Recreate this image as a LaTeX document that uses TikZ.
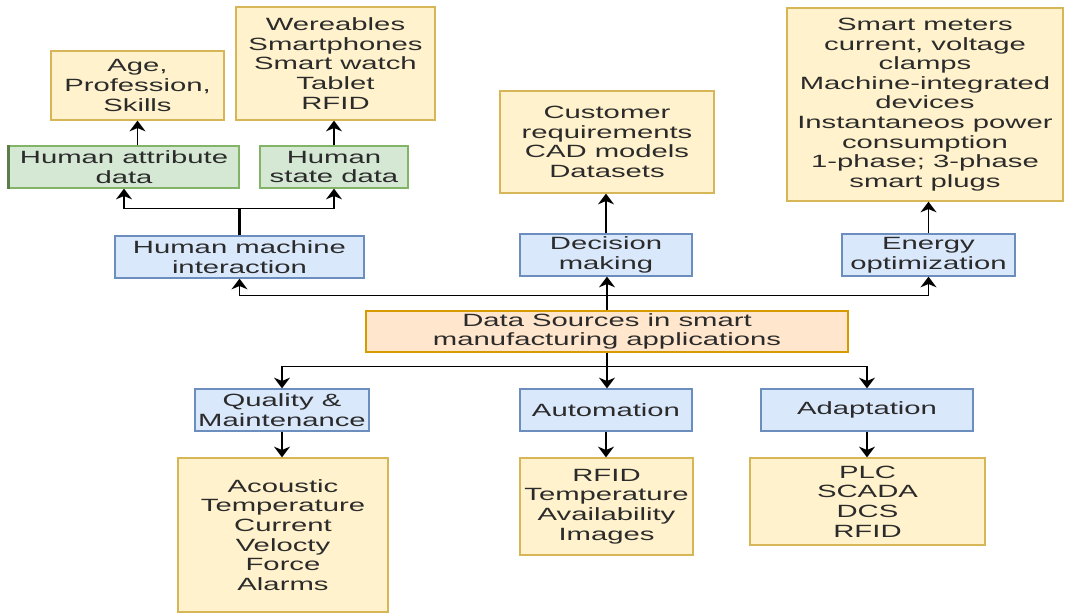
\documentclass[tikz,border=0pt]{standalone}
\usepackage{fontspec}
\setmainfont{Liberation Sans}[FakeStretch=1.65]
\usetikzlibrary{arrows.meta}
\definecolor{yelfill}{HTML}{FFF2CC}
\definecolor{yeldraw}{HTML}{D6B656}
\definecolor{bluefill}{HTML}{DAE8FC}
\definecolor{bluedraw}{HTML}{6C8EBF}
\definecolor{grnfill}{HTML}{D5E8D4}
\definecolor{grndraw}{HTML}{82B366}
\definecolor{orgfill}{HTML}{FFE6CC}
\definecolor{orgdraw}{HTML}{D79B00}
\definecolor{txt}{HTML}{2B2B2B}
\tikzset{
  box/.style={draw, line width=1pt, align=center, inner sep=0pt, text=txt,
    font=\fontsize{13.3}{14.7}\selectfont},
  srcbox/.style={box, fill=yelfill, draw=yeldraw},
  appbox/.style={box, fill=bluefill, draw=bluedraw},
  humbox/.style={box, fill=grnfill, draw=grndraw},
  rootbox/.style={box, fill=orgfill, draw=orgdraw},
  link/.style={line width=1.1pt, -{Stealth[length=8pt,width=12pt,inset=2.5pt]}}
}
\begin{document}
\begin{tikzpicture}[x=0.75pt,y=-0.75pt]
                \useasboundingbox (0,0) rectangle (1065,614);
                % centre
                \node[rootbox, minimum width=361.5pt, minimum height=30.75pt] (src) at (607,331.5) {Data Sources in smart\\manufacturing applications};
                % upper row
                \node[appbox, minimum width=186.75pt, minimum height=31.5pt] (hmi) at (239.5,257) {Human machine\\interaction};
                \node[appbox, minimum width=129pt, minimum height=31.5pt] (dec) at (606,255) {Decision\\making};
                \node[appbox, minimum width=129.75pt, minimum height=31.5pt] (energy) at (928.5,255) {Energy\\optimization};
                \node[humbox, minimum width=172.5pt, minimum height=31.5pt] (hattr) at (124,167) {Human attribute\\data};
                \node[humbox, minimum width=111pt, minimum height=31.5pt] (hstate) at (334,167) {Human\\state data};
                \node[srcbox, minimum width=129.75pt, minimum height=51.75pt] (age) at (137.5,85.5) {Age,\\Profession,\\Skills};
                \node[srcbox, minimum width=149.25pt, minimum height=84.75pt] (wear) at (335.5,63.5) {Wereables\\Smartphones\\Smart watch\\Tablet\\RFID};
                \node[srcbox, minimum width=160.5pt, minimum height=76.5pt] (cust) at (607,142) {Customer\\requirements\\CAD models\\Datasets};
                \node[srcbox, minimum width=207pt, minimum height=144.75pt] (meters) at (925,104.5) {Smart meters\\current, voltage\\clamps\\Machine-integrated\\devices\\Instantaneos power\\consumption\\1-phase; 3-phase\\smart plugs};
                % lower row
                \node[appbox, minimum width=130.5pt, minimum height=31.5pt] (qual) at (282,410) {Quality \&\\Maintenance};
                \node[appbox, minimum width=129pt, minimum height=31.5pt] (auto) at (606,410) {Automation};
                \node[appbox, minimum width=159pt, minimum height=31.5pt] (adapt) at (867,410) {Adaptation};
                \node[srcbox, minimum width=157.5pt, minimum height=115.5pt] (acou) at (283,535) {Acoustic\\Temperature\\Current\\Velocty\\Force\\Alarms};
                \node[srcbox, minimum width=129.75pt, minimum height=72.75pt] (rfid) at (606.5,506.5) {RFID\\Temperature\\Availability\\Images};
                \node[srcbox, minimum width=176.25pt, minimum height=65.25pt] (plc) at (867.5,501.5) {PLC\\SCADA\\DCS\\RFID};
                \draw[line width=2pt, grndraw!70!black] (hattr.north west) -- (hattr.south west);
                % links up
                \draw[link] (src.north) -- (src.north |- dec.south);
                \path (src.north) ++(0,-15) coordinate (tb);
                \draw[link] (tb) -| (hmi.south);
                \draw[link] (tb) -| (energy.south);
                \draw[line width=1.6pt] (hmi.north) -- ++(0,-27) coordinate (hj);
                \draw[link] (hj) -| (hattr.south);
                \draw[link] (hj) -| (hstate.south);
                \draw[link] (hattr.north -| age.south) -- (age.south);
                \draw[link] (hstate.north) -- (hstate.north |- wear.south);
                \draw[link] (dec.north) -- (dec.north |- cust.south);
                \draw[link] (energy.north) -- (energy.north |- meters.south);
                % links down
                \draw[link] (src.south) -- (src.south |- auto.north);
                \path (src.south) ++(0,14) coordinate (bb);
                \draw[link] (bb) -| (qual.north);
                \draw[link] (bb) -| (adapt.north);
                \draw[link] (qual.south) -- (qual.south |- acou.north);
                \draw[link] (auto.south) -- (auto.south |- rfid.north);
                \draw[link] (adapt.south) -- (adapt.south |- plc.north);
            \end{tikzpicture}
\end{document}
